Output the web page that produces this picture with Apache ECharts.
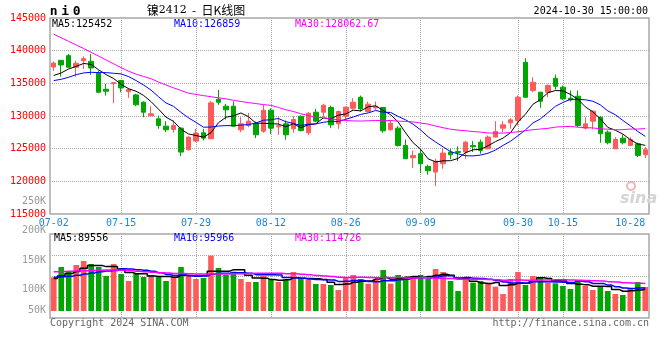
<!DOCTYPE html>
<html><head><meta charset="utf-8">
<script src="https://cdn.jsdelivr.net/npm/echarts@6/dist/echarts.min.js"></script>
<style>html,body{margin:0;padding:0;background:#fff}#c{width:660px;height:360px}</style>
</head><body><div id="c"></div>
<script>
const dates = ['07-02','07-03','07-04','07-05','07-08','07-09','07-10','07-11','07-12','07-15','07-16','07-17','07-18','07-19','07-22','07-23','07-24','07-25','07-26','07-29','07-30','07-31',
'08-01','08-02','08-05','08-06','08-07','08-08','08-09','08-12','08-13','08-14','08-15','08-16','08-19','08-20','08-21','08-22','08-23','08-26','08-27','08-28','08-29','08-30',
'09-02','09-03','09-04','09-05','09-06','09-09','09-10','09-11','09-12','09-13','09-18','09-19','09-20','09-23','09-24','09-25','09-26','09-27','09-30',
'10-08','10-09','10-10','10-11','10-14','10-15','10-16','10-17','10-18','10-21','10-22','10-23','10-24','10-25','10-28','10-29','10-30'];
const opens = [137500,138520,139240,137460,138470,138370,136540,134100,134960,135420,
133740,133230,132110,130020,129570,128450,127940,128140,124830,126160,
127430,126510,132570,131500,131500,127890,128550,128850,127680,130890,
128340,128800,128040,129970,127430,130580,130580,131300,128800,129970,
131190,132870,130690,131250,131300,127890,128140,125490,123610,124220,
122290,121420,122690,124480,124580,124480,125490,126000,124980,126770,
128140,128950,129310,138220,133890,133640,133640,135780,134400,132720,
133030,128140,129210,129820,127530,124980,126610,125490,125750,124070];
const closes = [138100,137810,137460,138070,138780,137350,133640,133790,135110,134300,
134040,131710,130580,130330,128550,127890,128550,124480,126770,127380,
126610,132010,132110,130940,128450,128800,129210,127120,130890,128140,
128500,127120,129460,127780,130430,129210,131650,128650,130690,131350,
132110,131090,131810,131450,127730,128900,125490,123460,123970,122690,
121620,123100,124320,124070,124420,126000,125290,124730,126770,127630,
128650,129410,132870,132870,135160,132260,134660,134550,132620,132470,
128550,128800,130740,127280,125900,126410,125900,126410,123970,124830];
const lows = [136900,136030,137400,136000,137200,136280,133480,133130,131960,133640,
132770,131500,129820,129970,128040,127530,127430,123860,124730,126000,
126260,126450,131710,129460,128400,127530,128290,126610,127430,127220,
127120,126360,127430,127630,127120,129060,129820,128140,128040,129460,
130940,130690,130580,130940,127430,127780,125340,123400,122030,121270,
121010,119280,121930,123360,123100,123460,124480,124220,124880,126750,
127530,128040,128550,132800,133640,131250,132870,134040,132470,132210,
128290,127940,127940,125900,125650,124950,125650,125390,123710,123560];
const highs = [138350,138550,139490,138470,139130,139490,136950,134910,135150,135450,
134250,133380,132260,131500,130070,129210,129310,128290,126870,128040,
128040,132310,133990,131860,132260,129820,130480,129160,131700,131190,
129820,129310,129970,130070,130580,131090,131860,131600,130840,131450,
132720,133130,132210,132210,131350,129410,128450,126410,124730,124980,
122540,123460,125090,124980,125340,126210,126160,126410,127020,129210,
129210,129670,133130,138830,135930,133700,134810,136340,134660,133890,
133890,129820,130840,129970,127780,126770,127170,126770,125900,125240];
const volumes = [141400,184800,168000,193200,210000,197400,184800,147000,197400,155400,
126000,158200,142800,151200,147000,126000,141400,184800,147000,134400,
138600,232400,180600,151200,165200,134400,121800,121800,147000,134400,
121800,130200,163800,138600,130200,113400,113400,109200,88200,141400,
151200,134400,114800,130200,172200,114800,151200,140000,147000,151200,
134400,176400,163800,126000,84000,134400,119000,126000,116200,102200,
71400,134400,163800,109200,147000,142800,119000,116200,105000,92400,
130200,105000,88200,105000,84000,71400,67200,96600,121800,100800];
const ma5 = [136200,136600,137200,137600,138044,137894,137060,136326,135734,134838,
134176,133790,133148,132192,131042,129812,129180,127960,127248,127014,
126758,127450,128976,129810,130024,130462,129902,128904,128894,128832,
128772,128354,128822,128200,128658,128800,129706,129544,130126,130310,
130890,130778,131410,131562,130838,130196,129076,127406,125910,124902,
123446,122968,123140,123160,123506,124382,124820,124902,125442,126084,
126614,127438,129066,130286,131792,132514,133564,133900,133850,133312,
132570,131398,130636,129568,128254,127826,127246,126380,125718,125504];
const ma10 = [135420,135620,135930,136330,136590,136690,136640,136640,136540,136441,
136035,135425,134737,133963,132940,131994,131485,130554,129720,129028,
128285,128315,128468,128529,128519,128610,128676,128940,129352,129428,
129617,129128,128863,128547,128745,128786,129030,129183,129163,129484,
129845,130242,130477,130844,130574,130543,129927,129408,128736,127870,
126821,126022,125273,124535,124204,123914,123894,124021,124301,124795,
125498,126129,126984,127864,128938,129564,130501,131483,132068,132552,
132542,132481,132268,131709,130783,130198,129322,128508,127643,126879];
const ma30 = [142520,141970,141420,140870,140320,139750,139160,138570,137990,137400,
136850,136400,136050,135700,135200,134750,134320,133900,133500,133300,
133120,132950,132780,132620,132420,132220,132050,131900,131750,131632,
131312,130956,130689,130346,130068,129797,129730,129559,129412,129313,
129249,129228,129269,129307,129279,129313,129211,129177,129084,128927,
128761,128464,128204,127975,127841,127748,127617,127537,127400,127383,
127388,127464,127578,127748,127905,128007,128107,128304,128368,128406,
128287,128211,128175,128036,127975,127892,127906,128004,128004,128075];
const vma5 = [136000,147000,158000,166000,179480,190680,190680,186480,187320,176400,
162120,156800,155960,146720,145040,145040,141680,150080,149240,146720,
149240,167440,166600,167440,173600,172760,150640,138880,138040,131880,
129360,131040,139440,137760,136920,135240,131880,120960,110880,113120,
120680,124880,126000,134400,140560,133280,136640,141680,145040,140840,
144760,149800,154560,150360,136920,136920,125440,117880,115920,119560,
106960,110040,117600,116200,125160,139440,136360,126840,126000,115080,
112560,109760,104160,104160,102480,90720,83160,84840,88200,91560];
const vma10 = [142000,144000,146000,150000,155000,160000,165000,168000,170000,177940,
176400,173740,171220,167020,160720,153580,149240,153020,147980,145880,
147140,154560,158340,158340,160160,161000,159040,152740,152740,152740,
151060,140840,139160,137900,134400,132300,131460,130200,124320,125020,
127960,128380,123480,122640,126840,126980,130760,133840,139720,140700,
139020,143220,148120,147700,138880,140840,137620,136220,133140,128240,
121940,117740,117740,116060,122360,123200,123200,122220,121100,120120,
126000,123060,115500,115080,108780,101640,96460,94500,96180,97020];
const vma30 = [165000,166000,167000,168500,169500,170500,171500,172000,172000,171000,
169000,167000,165000,163000,161000,159500,158000,157000,156000,155500,
155500,155500,155500,155800,156200,156800,157500,158200,158600,158853,
158200,156380,156240,154420,151760,148960,146580,145320,141680,141213,
142053,141260,140327,139627,140467,140093,140420,138927,138927,139487,
139347,137480,136920,136080,133373,133373,133280,133420,132393,131320,
129640,129780,129780,128800,129360,130340,130527,130760,131320,129687,
128987,128007,127120,126280,123340,121893,119093,117647,116807,115127];
const labelDates = ['07-02','07-15','07-29','08-12','08-26','09-09','09-30','10-15','10-28'];
const gridDates = ['07-15','07-29','08-12','08-26','09-09','09-30','10-15'];
const priceLegend = ['MA5:125452','MA10:126859','MA30:128062.67'];
const volumeLegend = ['MA5:89556','MA10:95966','MA30:114726'];
const symbolChars = ['n','i','0'];
const titleParts = ['镍','2412','  -  日K线图'];
const timeText = '2024-10-30 15:00:00';
const footerLeft = 'Copyright 2024 SINA.COM';
const footerRight = 'http://finance.sina.com.cn';

const MONO = 'DejaVu Sans Mono';
const RED = '#ff5a5a', GREEN = '#00a600';
const GRIDC = '#a8a8a8';
const legendColors = ['#000000', '#0000ff', '#ff00ff'];
const legendX = [52, 174, 295];

const chart = echarts.init(document.getElementById('c'), null, {renderer: 'canvas'});
const candleData = dates.map((d, i) => [opens[i], closes[i], lows[i], highs[i]]);
const labelFn = (i, v) => labelDates.indexOf(v) >= 0;
const gridFn = (i, v) => gridDates.indexOf(v) >= 0;
const dotted = {type: 'dotted', color: GRIDC, width: 1};

const texts = [];
priceLegend.forEach((t, k) => texts.push({type: 'text', x: legendX[k], y: 24, style: {text: t, fill: legendColors[k], font: '10px "' + MONO + '"', verticalAlign: 'middle'}}));
volumeLegend.forEach((t, k) => texts.push({type: 'text', x: legendX[k] + (k === 0 ? 2 : 0), y: 238.5, style: {text: t, fill: legendColors[k], font: '10px "' + MONO + '"', verticalAlign: 'middle'}}));
texts.push({type: 'text', x: 48, y: 12, style: {
  text: symbolChars.map(c => '{c|' + c + '}').join(''), verticalAlign: 'middle',
  rich: {c: {width: 11.5, align: 'center', fontFamily: MONO, fontWeight: 'bold', fontSize: 13, fill: '#000', color: '#000'}}}});
texts.push({type: 'text', x: 196, y: 10.5, style: {
  text: '{a|' + titleParts[0] + '}{b|' + titleParts[1] + '}{a|' + titleParts[2] + '}', align: 'center', verticalAlign: 'middle',
  rich: {a: {fontFamily: 'Noto Sans CJK SC', fontSize: 12, color: '#000'}, b: {fontFamily: 'DejaVu Serif', fontSize: 11, color: '#555'}}}});
texts.push({type: 'text', x: 648, y: 11.5, style: {text: timeText, fill: '#000', font: '10px "' + MONO + '"', align: 'right', verticalAlign: 'middle'}});
texts.push({type: 'text', x: 50, y: 323.5, style: {text: footerLeft, fill: '#666', font: '10px "' + MONO + '"', verticalAlign: 'middle'}});
texts.push({type: 'text', x: 649, y: 323.5, style: {text: footerRight, fill: '#666', font: '10px "' + MONO + '"', align: 'right', verticalAlign: 'middle'}});
texts.push({type: 'circle', shape: {cx: 631, cy: 186, r: 4}, style: {fill: 'none', stroke: '#f2b4b4', lineWidth: 2}});
texts.push({type: 'text', x: 620, y: 199, style: {text: 'sina', fill: '#d4d4d4', font: 'italic bold 16px "DejaVu Sans"', verticalAlign: 'middle'}});

const option = {
  animation: false,
  backgroundColor: '#fff',
  grid: [
    {left: 50, right: 11, top: 18, height: 196, show: true, borderColor: GRIDC, borderWidth: 1.5, backgroundColor: 'transparent'},
    {left: 50, right: 11, top: 234, height: 84, show: true, borderColor: GRIDC, borderWidth: 1.5, backgroundColor: 'transparent'},
    {left: 50, right: 11, top: 234, height: 77},
    {left: 50, right: 11, top: 201, height: 118}
  ],
  xAxis: [
    {type: 'category', gridIndex: 0, data: dates, boundaryGap: true,
     axisLine: {show: false}, axisTick: {show: false},
     axisLabel: {interval: labelFn, color: '#1c86d6', fontFamily: MONO, fontSize: 10, margin: 4},
     splitLine: {show: true, interval: gridFn, alignWithLabel: true, lineStyle: dotted}},
    {type: 'category', gridIndex: 1, data: dates, boundaryGap: true,
     axisLine: {show: false}, axisTick: {show: false}, axisLabel: {show: false},
     splitLine: {show: true, interval: gridFn, alignWithLabel: true, lineStyle: dotted}},
    {type: 'category', gridIndex: 2, data: dates, boundaryGap: true,
     axisLine: {show: false}, axisTick: {show: false}, axisLabel: {show: false}, splitLine: {show: false}},
    {type: 'category', gridIndex: 3, data: dates, show: false}
  ],
  yAxis: [
    {type: 'value', gridIndex: 0, min: 115000, max: 145000, interval: 5000,
     axisLine: {show: false}, axisTick: {show: false},
     axisLabel: {color: '#ff0000', fontFamily: MONO, fontSize: 10, margin: 4, padding: [0, 0, 4, 0], formatter: v => String(v)},
     splitLine: {show: true, lineStyle: dotted, showMinLine: false, showMaxLine: false}},
    {type: 'value', gridIndex: 1, min: 0, max: 4, interval: 1,
     axisLine: {show: false}, axisTick: {show: false}, axisLabel: {show: false},
     splitLine: {show: true, lineStyle: dotted, showMinLine: false, showMaxLine: false}},
    {type: 'value', gridIndex: 2, min: 0, max: 323400, show: false, splitLine: {show: false}},
    {type: 'value', gridIndex: 3, min: 50000, max: 250000, interval: 50000,
     axisLine: {show: false}, axisTick: {show: false}, splitLine: {show: false},
     axisLabel: {color: '#999', fontFamily: MONO, fontSize: 10, margin: 4,
       formatter: v => { const s = Math.round(v / 1000) + 'K'; return v === 50000 ? '{b|' + s + '}' : s; },
       rich: {b: {color: '#999', fontFamily: MONO, fontSize: 10, padding: [0, 0, 18, 0]}}}}
  ],
  graphic: {elements: texts},
  series: [
    {type: 'candlestick', xAxisIndex: 0, yAxisIndex: 0, data: candleData, barWidth: 5,
     itemStyle: {color: RED, color0: GREEN, borderColor: RED, borderColor0: GREEN, borderWidth: 1}},
    {type: 'line', xAxisIndex: 0, yAxisIndex: 0, data: ma5, showSymbol: false, lineStyle: {color: '#000', width: 1}},
    {type: 'line', xAxisIndex: 0, yAxisIndex: 0, data: ma10, showSymbol: false, lineStyle: {color: '#0000ff', width: 1}},
    {type: 'line', xAxisIndex: 0, yAxisIndex: 0, data: ma30, showSymbol: false, lineStyle: {color: '#ff00ff', width: 1}},
    {type: 'bar', xAxisIndex: 2, yAxisIndex: 2, data: volumes, barWidth: 5.6,
     itemStyle: {color: p => closes[p.dataIndex] >= opens[p.dataIndex] ? RED : GREEN}},
    {type: 'line', xAxisIndex: 2, yAxisIndex: 2, data: vma5, step: 'middle', showSymbol: false, lineStyle: {color: '#000', width: 1.5}},
    {type: 'line', xAxisIndex: 2, yAxisIndex: 2, data: vma10, step: 'middle', showSymbol: false, lineStyle: {color: '#0000ff', width: 1.5}},
    {type: 'line', xAxisIndex: 2, yAxisIndex: 2, data: vma30, step: 'middle', showSymbol: false, lineStyle: {color: '#ff00ff', width: 1.5}}
  ]
};
chart.setOption(option);
</script>
</body></html>
